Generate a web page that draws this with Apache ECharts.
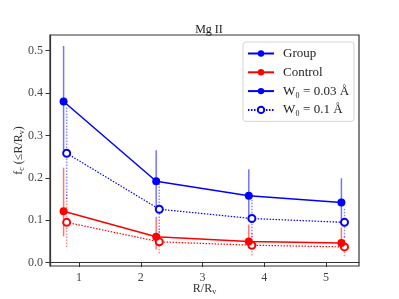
<!DOCTYPE html>
<html><head><meta charset="utf-8">
<script src="https://cdn.jsdelivr.net/npm/echarts@6/dist/echarts.min.js"></script>
<style>html,body{margin:0;padding:0;background:#fff}#c{width:399px;height:299px}</style>
</head><body><div id="c"></div>
<script>
const xTicks = [1, 2, 3, 4, 5];
const yTicks = [0.0, 0.1, 0.2, 0.3, 0.4, 0.5];
const xFilled = [0.75, 2.25, 3.75, 5.25];
const xOpen = [0.8, 2.3, 3.8, 5.3];
const groupY = [0.380, 0.192, 0.158, 0.142];
const groupLo = [0.265, 0.13, 0.10, 0.09];
const groupHi = [0.511, 0.265, 0.220, 0.199];
const groupOpenY = [0.258, 0.126, 0.104, 0.095];
const groupOpenLo = [0.15, 0.07, 0.06, 0.06];
const groupOpenHi = [0.37, 0.19, 0.15, 0.13];
const controlY = [0.121, 0.061, 0.050, 0.046];
const controlLo = [0.062, 0.031, 0.034, 0.030];
const controlHi = [0.224, 0.108, 0.090, 0.083];
const controlOpenY = [0.095, 0.049, 0.041, 0.037];
const controlOpenLo = [0.037, 0.022, 0.017, 0.015];
const controlOpenHi = [0.16, 0.08, 0.07, 0.065];
const legendNames = ['Group', 'Control', 'W\u2080 = 0.03 \u00C5', 'W\u2080 = 0.1 \u00C5'];

const FONT = 'Liberation Serif';
const pts = (xs, ys) => xs.map((x, i) => [x, ys[i]]);
const bars = (xs, lo, hi) => xs.map((x, i) => [x, lo[i], hi[i]]);

function errSeries(xs, lo, hi, color, dashed) {
  return {
    type: 'custom', silent: true, z: 1,
    data: bars(xs, lo, hi),
    encode: { x: 0, y: [1, 2] },
    renderItem: function (params, api) {
      const a = api.coord([api.value(0), api.value(1)]);
      const b = api.coord([api.value(0), api.value(2)]);
      return {
        type: 'line',
        shape: { x1: a[0], y1: a[1], x2: b[0], y2: b[1] },
        style: { stroke: color, lineWidth: 1.5, lineDash: dashed ? [1.5, 1.5] : null }
      };
    }
  };
}

const subRich = {
  a: { fontFamily: FONT, fontSize: 12, color: '#333' },
  s: { fontFamily: FONT, fontSize: 8, color: '#333', padding: [6, 0, 0, 0] }
};

const chart = echarts.init(document.getElementById('c'), null, { renderer: 'canvas' });
chart.setOption({
  animation: false,
  title: {
    text: 'Mg II', left: 204, top: 19, textAlign: 'center',
    textStyle: { fontFamily: FONT, fontSize: 12, fontWeight: 'normal', color: '#222' }
  },
  grid: { left: 50, top: 35, right: 40, bottom: 33, show: true, borderColor: '#333', borderWidth: 1.2, backgroundColor: '#fff', containLabel: false, outerBoundsMode: 'none' },
  legend: {
    data: legendNames, orient: 'vertical', left: 243, top: 42,
    itemWidth: 26, itemHeight: 8, itemGap: 5.8,
    padding: [5, 5, 5, 4],
    borderColor: '#d6d6d6', borderWidth: 1, borderRadius: 3, backgroundColor: '#fff',
    textStyle: { fontFamily: FONT, fontSize: 13, lineHeight: 12, color: '#222', padding: [0, 0, 0, 4] }
  },
  xAxis: {
    type: 'value', min: 0.53, max: 5.535,
    name: '{a|R/R}{s|v}', nameLocation: 'middle', nameGap: 16, nameMoveOverlap: false,
    nameTextStyle: { fontFamily: FONT, fontSize: 12, color: '#333', rich: subRich },
    axisLine: { show: true, lineStyle: { color: '#333', width: 1.2 } },
    axisTick: { show: true, length: 4.5, customValues: xTicks, lineStyle: { color: '#333' } },
    axisLabel: { customValues: xTicks, fontFamily: FONT, fontSize: 12, color: '#444', margin: 6 },
    splitLine: { show: false }
  },
  yAxis: {
    type: 'value', min: -0.008, max: 0.537,
    name: '{a|f}{s|c}{a| (\u2264R/R}{s|v}{a|)}', nameLocation: 'middle', nameGap: 24, nameRotate: 90, nameMoveOverlap: false,
    nameTextStyle: { fontFamily: FONT, fontSize: 12, color: '#333', rich: subRich },
    axisLine: { show: true, lineStyle: { color: '#333', width: 1.2 } },
    axisTick: { show: true, length: 4.5, customValues: yTicks, lineStyle: { color: '#333' } },
    axisLabel: { customValues: yTicks, fontFamily: FONT, fontSize: 12, color: '#444', margin: 7, formatter: v => v.toFixed(1) },
    splitLine: { show: false }
  },
  series: [
    errSeries(xOpen, controlOpenLo, controlOpenHi, 'rgba(255,0,0,0.45)', true),
    errSeries(xOpen, groupOpenLo, groupOpenHi, 'rgba(0,0,255,0.45)', true),
    errSeries(xFilled, controlLo, controlHi, 'rgba(255,0,0,0.55)', false),
    errSeries(xFilled, groupLo, groupHi, 'rgba(0,0,255,0.55)', false),
    {
      name: legendNames[3], type: 'line', z: 3, data: pts(xOpen, groupOpenY),
      symbol: 'emptyCircle', symbolSize: 7,
      lineStyle: { color: '#0000ff', width: 1.2, type: [1.5, 1.5] },
      itemStyle: { color: '#0000ff', borderColor: '#0000ff', borderWidth: 1.1 }
    },
    {
      name: 'controlOpen', type: 'line', z: 3, data: pts(xOpen, controlOpenY),
      symbol: 'emptyCircle', symbolSize: 7,
      lineStyle: { color: '#ff0000', width: 1.2, type: [1.5, 1.5] },
      itemStyle: { color: '#ff0000', borderColor: '#ff0000', borderWidth: 1.1 }
    },
    {
      name: legendNames[1], type: 'line', z: 4, data: pts(xFilled, controlY),
      symbol: 'circle', symbolSize: 8,
      lineStyle: { color: '#ff0000', width: 1.5 },
      itemStyle: { color: '#ff0000' }
    },
    {
      name: legendNames[0], type: 'line', z: 4, data: pts(xFilled, groupY),
      symbol: 'circle', symbolSize: 8,
      lineStyle: { color: '#0000ff', width: 1.5 },
      itemStyle: { color: '#0000ff' }
    },
    {
      name: legendNames[2], type: 'line', data: [],
      symbol: 'circle', symbolSize: 8,
      lineStyle: { color: '#0000ff', width: 1.5 },
      itemStyle: { color: '#0000ff' }
    }
  ]
});
</script></body></html>
